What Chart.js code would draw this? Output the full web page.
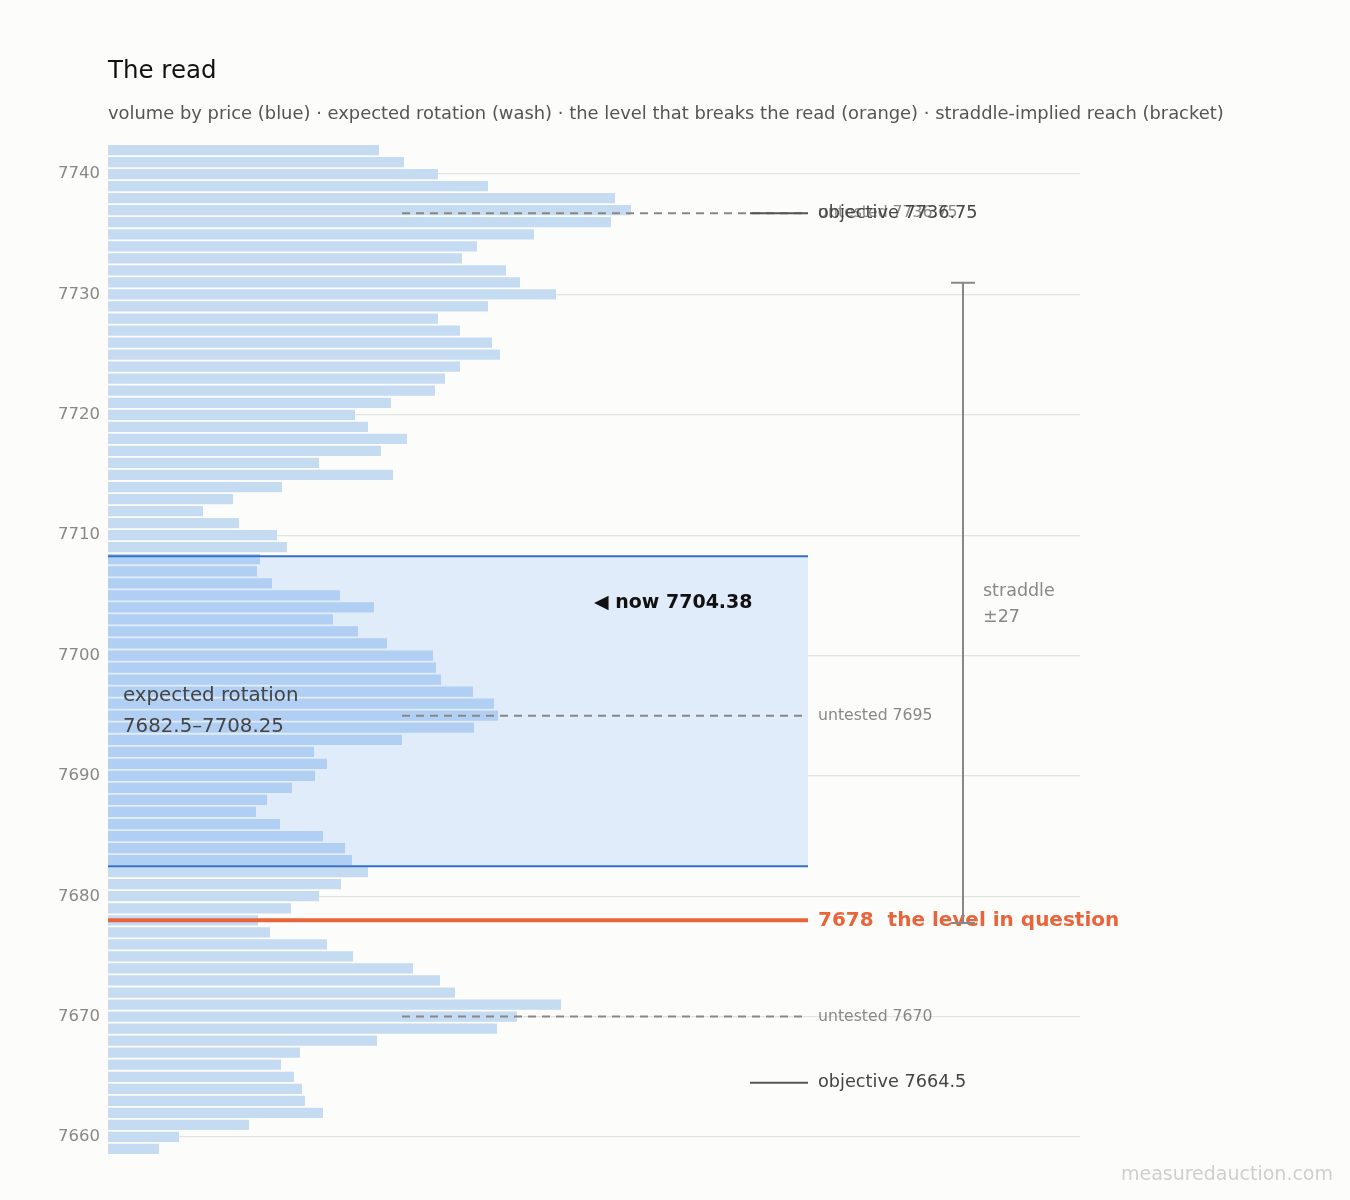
<!DOCTYPE html>
<html>
<head>
<meta charset="utf-8">
<script src="https://cdn.jsdelivr.net/npm/chart.js@4"></script>
<style>
  body { margin: 0; background: #fcfcfb; font-family: 'DejaVu Sans'; }
  canvas { display: block; }
  #warm { position: absolute; left: -9999px; font-family: 'DejaVu Sans'; }
</style>
</head>
<body>
<div id="warm">DejaVu <b>bold</b></div>
<canvas id="chart" width="1350" height="1200"></canvas>
<script>
// price rows, top to bottom
var prices = [];
for (var p = 7742; p >= 7659; p--) prices.push(p);

// volume per row (same order as prices)
var volumes = [
  271, 296, 330, 380, 507, 523, 503, 426, 369, 354, 398, 412, 448, 380, 330, 352, 384, 392, 352, 337, 327, 283, 247, 260, 299, 273, 211, 285, 174, 125, 95, 131, 169, 179,
  152, 149, 164, 232, 266, 225, 250, 279, 325, 328, 333, 365, 386, 390, 366, 294, 206, 219, 207, 184, 159, 148, 172, 215, 237, 244, 260, 233,
  211, 183, 150, 162, 219, 245, 305, 332, 347, 453, 409, 389, 269, 192, 173, 186, 194, 197, 215, 141, 71, 51
];

var yTicks = [7660, 7670, 7680, 7690, 7700, 7710, 7720, 7730, 7740];
var rotationLow = 7682.5, rotationHigh = 7708.25;
var nowPrice = 7704.38;
var breakLevel = 7678;
var untested = [7736.75, 7695, 7670];
var objectives = [7736.75, 7664.5];
var straddle = 26.6;

var FONT = "'DejaVu Sans', sans-serif";
Chart.defaults.font.family = FONT;

var barColors = prices.map(function (p) {
    return (p >= rotationLow && p <= rotationHigh) ? '#b1cff3' : '#c5dbf2';
});

var bg = {
    id: 'bg',
    beforeDraw: function (chart) {
        var c = chart.ctx;
        c.save();
        c.fillStyle = '#fcfcfb';
        c.fillRect(0, 0, chart.width, chart.height);
        c.fillStyle = '#111';
        c.font = '24.5px ' + FONT;
        c.textBaseline = 'middle';
        c.fillText('The read', 108, 72);
        c.fillStyle = '#555';
        c.font = '17.9px ' + FONT;
        c.fillText('volume by price (blue) \u00b7 expected rotation (wash) \u00b7 the level that breaks the read (orange) \u00b7 straddle-implied reach (bracket)', 108, 114);
        c.fillStyle = '#cfcfcf';
        c.font = '19px ' + FONT;
        c.textAlign = 'right';
        c.fillText('measuredauction.com', 1333, 1175);
        c.restore();
    },
    beforeDatasetsDraw: function (chart) {
        var c = chart.ctx, x = chart.scales.x, y = chart.scales.y;
        c.save();
        c.fillStyle = '#e1ecfa';
        var x0 = x.getPixelForValue(0), x1 = x.getPixelForValue(700);
        c.fillRect(x0, y.getPixelForValue(rotationHigh), x1 - x0, y.getPixelForValue(rotationLow) - y.getPixelForValue(rotationHigh));
        c.restore();
    },
    afterDatasetsDraw: function (chart) {
        var c = chart.ctx, x = chart.scales.x, y = chart.scales.y;
        var x0 = x.getPixelForValue(0), xe = x.getPixelForValue(700), xd = x.getPixelForValue(294), xo = x.getPixelForValue(642);
        c.save();
        c.textBaseline = 'middle';
        // rotation edges
        c.strokeStyle = '#3470c6';
        c.lineWidth = 2;
        [rotationLow, rotationHigh].forEach(function (v) {
            var py = y.getPixelForValue(v);
            c.beginPath(); c.moveTo(x0, py); c.lineTo(xe, py); c.stroke();
        });
        // untested dashed
        c.strokeStyle = '#888';
        c.setLineDash([8, 6]);
        untested.forEach(function (v) {
            var py = y.getPixelForValue(v);
            c.beginPath(); c.moveTo(xd, py); c.lineTo(xe, py); c.stroke();
            c.fillStyle = '#888';
            c.font = '15.7px ' + FONT;
            c.fillText('untested ' + v, xe + 10, py);
        });
        c.setLineDash([]);
        // objectives
        c.strokeStyle = '#555';
        objectives.forEach(function (v) {
            var py = y.getPixelForValue(v);
            c.beginPath(); c.moveTo(xo, py); c.lineTo(xe, py); c.stroke();
            c.fillStyle = '#444';
            c.font = '17.7px ' + FONT;
            c.fillText('objective ' + v, xe + 10, py);
        });
        // break level
        var pb = y.getPixelForValue(breakLevel);
        c.strokeStyle = '#e8643a';
        c.lineWidth = 4;
        c.beginPath(); c.moveTo(x0, pb); c.lineTo(xe, pb); c.stroke();
        c.fillStyle = '#e8643a';
        c.font = 'bold 20px ' + FONT;
        c.fillText(breakLevel + '  the level in question', xe + 10, pb);
        // now
        c.fillStyle = '#111';
        c.font = 'bold 19px ' + FONT;
        c.fillText('\u25c0 now ' + nowPrice, 594, y.getPixelForValue(nowPrice));
        // rotation label
        c.fillStyle = '#444';
        c.font = '19.8px ' + FONT;
        c.fillText('expected rotation', 123, 696);
        c.fillText(rotationLow + '\u2013' + rotationHigh, 123, 727);
        // straddle bracket
        var sx = 963, st = y.getPixelForValue(nowPrice + straddle), sb = y.getPixelForValue(nowPrice - straddle);
        c.strokeStyle = '#888';
        c.lineWidth = 2;
        c.beginPath();
        c.moveTo(sx, st); c.lineTo(sx, sb);
        c.moveTo(sx - 12, st); c.lineTo(sx + 12, st);
        c.moveTo(sx - 12, sb); c.lineTo(sx + 12, sb);
        c.stroke();
        c.fillStyle = '#888';
        c.font = '17.5px ' + FONT;
        c.fillText('straddle', 983, 591);
        c.fillText('\u00b1' + Math.round(straddle), 983, 617);
        c.restore();
    }
};

function draw() {
    new Chart(document.getElementById('chart').getContext('2d'), {
        type: 'bar',
        data: {
            datasets: [{
                data: prices.map(function (p, i) { return { x: volumes[i], y: p }; }),
                backgroundColor: barColors,
                borderWidth: 0,
                barPercentage: 0.85,
                categoryPercentage: 1
            }]
        },
        options: {
            indexAxis: 'y',
            responsive: false,
            animation: false,
            layout: { padding: { top: 144, right: 270, bottom: 45, left: 0 } },
            plugins: { legend: { display: false }, tooltip: { enabled: false } },
            scales: {
                x: { type: 'linear', min: 0, max: 972, display: false },
                y: {
                    type: 'linear',
                    min: 7658.5,
                    max: 7742.5,
                    offset: false,
                    afterFit: function (s) { s.width = 108; },
                    afterBuildTicks: function (s) { s.ticks = yTicks.map(function (v) { return { value: v }; }); },
                    border: { display: false },
                    grid: { offset: false, drawTicks: false, lineWidth: 1.2, color: '#e3e3e3' },
                    ticks: {
                        autoSkip: false,
                        color: '#888',
                        font: { size: 16.5 },
                        padding: 8,
                        callback: function (v) { return String(v); }
                    }
                }
            }
        },
        plugins: [bg]
    });
}
if (document.fonts && document.fonts.load) {
    Promise.all([document.fonts.load("16px 'DejaVu Sans'"), document.fonts.load("bold 16px 'DejaVu Sans'")]).then(draw, draw);
} else { draw(); }
</script>
</body>
</html>
